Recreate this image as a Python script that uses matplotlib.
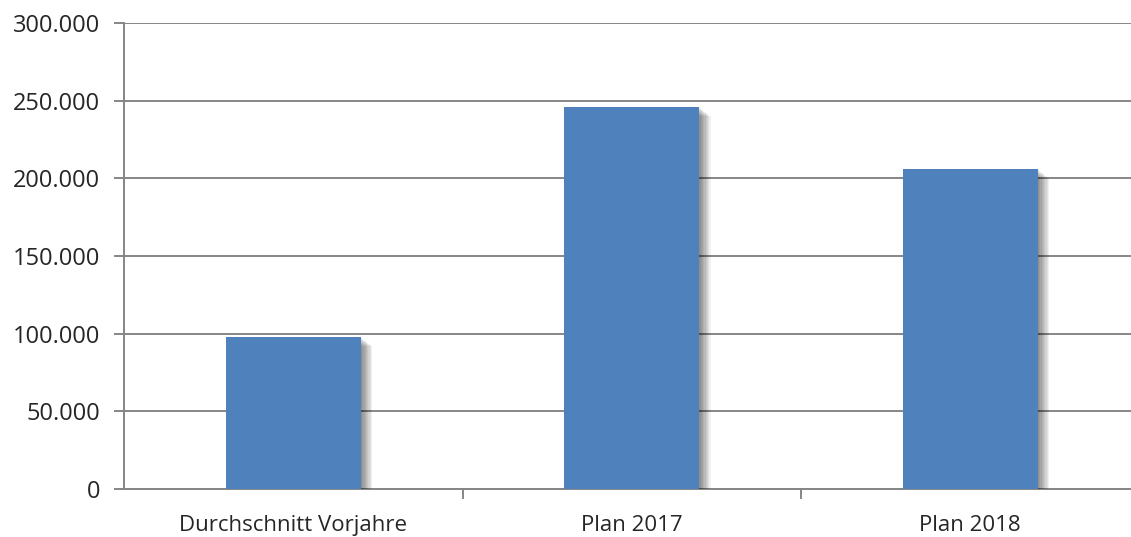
import matplotlib.pyplot as plt
import matplotlib.patheffects as pe
from matplotlib.ticker import FuncFormatter, FixedLocator

categories = ["Durchschnitt Vorjahre", "Plan 2017", "Plan 2018"]
values = [98000, 246000, 206000]
y_ticks = [0, 50000, 100000, 150000, 200000, 250000, 300000]

plt.rcParams["font.family"] = ["Open Sans", "DejaVu Sans"]

W, H = 1131, 537
fig = plt.figure(figsize=(W / 100, H / 100), dpi=100)
fig.patch.set_facecolor("white")
ax = fig.add_axes([124 / W, (H - 489) / H, (W - 124) / W, (489 - 23) / H])

grid_col = "#868686"
bar_col = "#4F81BD"

# soft drop shadow built from stacked offset copies
shadow = [pe.SimplePatchShadow(offset=(0.9 * i, -0.7 * i), shadow_rgbFace="black", alpha=0.06)
          for i in range(1, 10)]
ax.bar(range(len(categories)), values, width=0.4, color=bar_col, zorder=3,
       path_effects=shadow + [pe.Normal()])

ax.set_ylim(0, 300000)
ax.set_xlim(-0.5, -0.5 + (W - 124) / 338.5)
ax.set_yticks(y_ticks)
ax.yaxis.set_major_formatter(FuncFormatter(lambda v, p: f"{int(v):,}".replace(",", ".")))
ax.yaxis.grid(True, color=grid_col, linewidth=1.4, zorder=0)
ax.set_axisbelow(True)

ax.set_xticks(range(len(categories)))
ax.set_xticklabels(categories)
ax.xaxis.set_minor_locator(FixedLocator([0.5, 1.5, 2.5]))
ax.tick_params(axis="x", which="major", length=0, pad=19, labelsize=16, labelcolor="#262626")
ax.tick_params(axis="x", which="minor", length=7, width=1.4, color=grid_col)
ax.tick_params(axis="y", length=7, width=1.4, color=grid_col, pad=10, labelsize=17,
               labelcolor="#262626")

for s in ["top", "right"]:
    ax.spines[s].set_visible(False)
for s in ["left", "bottom"]:
    ax.spines[s].set_color(grid_col)
    ax.spines[s].set_linewidth(1.4)

fig.savefig("out.png", dpi=100)
